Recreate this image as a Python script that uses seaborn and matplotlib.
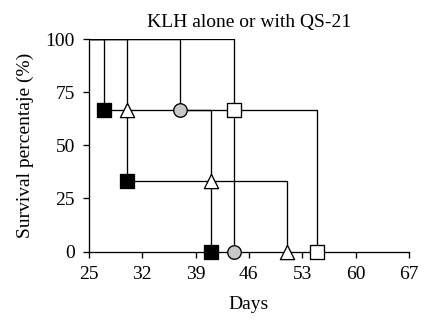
import seaborn as sns
import matplotlib.pyplot as plt
import pandas as pd

# Step-survival data (day, survival %) for each group
black_sq_days = [25, 27, 30, 41]
black_sq_surv = [100, 66.7, 33.3, 0]
triangle_days = [25, 30, 41, 51]
triangle_surv = [100, 66.7, 33.3, 0]
circle_days = [25, 37, 44]
circle_surv = [100, 66.7, 0]
white_sq_days = [25, 44, 55]
white_sq_surv = [100, 66.7, 0]

x_ticks = [25, 32, 39, 46, 53, 60, 67]
y_ticks = [0, 25, 50, 75, 100]

series = [
    ("black square", black_sq_days, black_sq_surv, "s", "black", 90),
    ("triangle", triangle_days, triangle_surv, "^", "white", 105),
    ("circle", circle_days, circle_surv, "o", "#c8c8c8", 95),
    ("white square", white_sq_days, white_sq_surv, "s", "white", 90),
]

sns.set_style("ticks")
plt.rcParams["font.family"] = ["Liberation Serif", "DejaVu Serif"]
plt.rcParams["text.color"] = "black"
plt.rcParams["axes.labelcolor"] = "black"

fig = plt.figure(figsize=(4.25, 3.23), dpi=100)
ax = fig.add_axes([0.209, 0.221, 0.753, 0.658])

for name, d, s, mk, fc, size in series:
    df = pd.DataFrame({"Days": d, "Survival": s})
    sns.lineplot(data=df, x="Days", y="Survival", drawstyle="steps-post",
                 color="black", linewidth=0.95, estimator=None, ax=ax, zorder=2)

for name, d, s, mk, fc, size in series:
    df = pd.DataFrame({"Days": d[1:], "Survival": s[1:]})
    sns.scatterplot(data=df, x="Days", y="Survival", marker=mk, color=fc,
                    edgecolor="black", linewidth=0.95, s=size, ax=ax,
                    clip_on=False, zorder=3)

ax.set_xlim(25, 67)
ax.set_ylim(0, 100)
ax.set_xticks(x_ticks)
ax.set_yticks(y_ticks)
ax.tick_params(direction="out", length=4, width=0.95, labelsize=14,
               colors="black", pad=6)
for side in ["left", "bottom"]:
    ax.spines[side].set_linewidth(0.95)
    ax.spines[side].set_color("black")
sns.despine(ax=ax)

ax.set_title("KLH alone or with QS-21", fontsize=14, pad=9, color="black")
ax.set_xlabel("Days", fontsize=14, labelpad=10)
ax.set_ylabel("Survival percentaje (%)", fontsize=14, labelpad=8)

fig.savefig("out.png", dpi=100)
plt.close()
